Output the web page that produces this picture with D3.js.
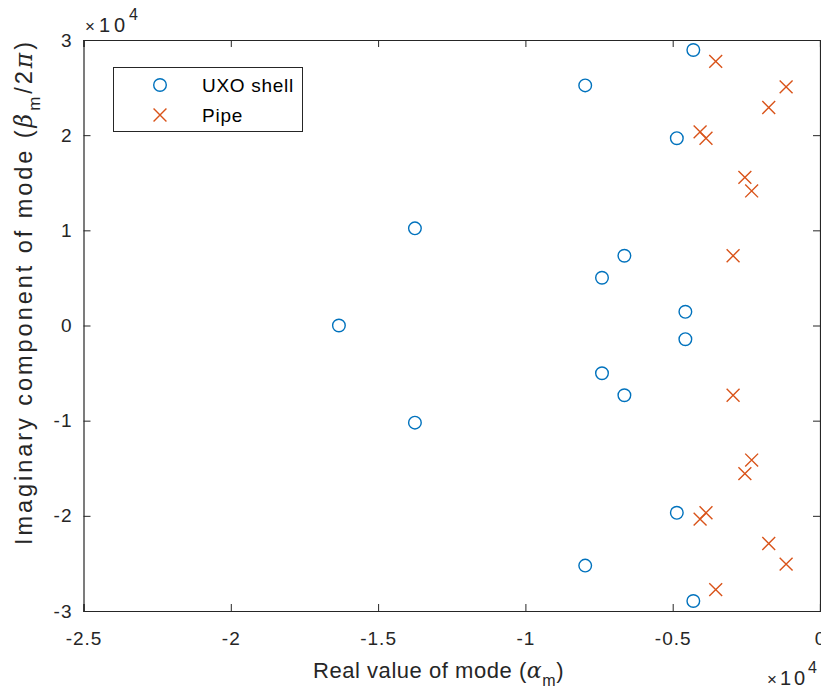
<!DOCTYPE html>
<html>
<head>
<meta charset="utf-8">
<script src="https://cdn.jsdelivr.net/npm/d3@7"></script>
<style>
  body { margin: 0; background: #fff; }
  svg { font-family: "Liberation Sans", Arial, sans-serif; }
</style>
</head>
<body>
<svg id="chart" width="821" height="692"></svg>
<script>
// UXO shell poles (real, imaginary)
const uxoReal = [-4300, -7970, -4860, -13750, -6640, -7400, -4570, -16330,
                 -4570, -7400, -6640, -13750, -4860, -7970, -4300];
const uxoImag = [28950, 25230, 19680, 10210, 7330, 5015, 1437, 0,
                 -1437, -5015, -7330, -10210, -19680, -25230, -28950];

// Pipe poles
const pipeReal = [-3540, -1150, -1740, -4070, -3870, -2550, -2320, -2950,
                  -2950, -2320, -2550, -3870, -4070, -1740, -1150, -3540];
const pipeImag = [27750, 25070, 22910, 20350, 19680, 15560, 14140, 7330,
                  -7330, -14140, -15560, -19680, -20350, -22910, -25070, -27750];

const xTicks = [-25000, -20000, -15000, -10000, -5000, 0];
const yTicks = [-30000, -20000, -10000, 0, 10000, 20000, 30000];

const blue = "#0072BD", orange = "#D95319", axisColor = "#262626";

const svg = d3.select("#chart");
const mLeft = 83.5, mRight = 820, mTop = 40, mBottom = 611;

const x = d3.scaleLinear().domain([-25000, 0]).range([mLeft, mRight]);
const y = d3.scaleLinear().domain([-30000, 30000]).range([mBottom, mTop]);

const fmt = v => String(v / 10000);

// spread a text's letters so it covers the same length as in the picture
function fit(t, target) {
    const node = t.node();
    const len = node.getComputedTextLength();
    const n = node.textContent.length;
    t.style("letter-spacing", ((target - len) / n) + "px");
}

// axes (inward ticks, box on)
svg.append("g").attr("transform", `translate(0,${mBottom})`)
    .call(d3.axisBottom(x).tickValues(xTicks).tickSize(-7).tickPadding(21).tickFormat(fmt));
svg.append("g").attr("transform", `translate(0,${mTop})`)
    .call(d3.axisTop(x).tickValues(xTicks).tickSize(-7).tickFormat(""));
svg.append("g").attr("transform", `translate(${mLeft},0)`)
    .call(d3.axisLeft(y).tickValues(yTicks).tickSize(-7).tickPadding(11).tickFormat(fmt));
svg.append("g").attr("transform", `translate(${mRight},0)`)
    .call(d3.axisRight(y).tickValues(yTicks).tickSize(-7).tickFormat(""));

svg.selectAll(".domain").attr("stroke", axisColor).attr("stroke-width", 1.2);
svg.selectAll(".tick line").attr("stroke", axisColor).attr("stroke-width", 1);
svg.selectAll(".tick text").attr("fill", axisColor).style("font-size", "19px")
    .style("letter-spacing", "1px")
    .style("font-family", "'Liberation Sans', Arial, sans-serif");

// exponent labels
function expLabel(xp, yp, width) {
    const t = svg.append("text").attr("x", xp).attr("y", yp)
        .attr("fill", axisColor).style("font-size", "20px");
    t.append("tspan").style("font-size", "17px").style("font-weight", "300").text("\u00d7");
    t.append("tspan").text("10");
    t.append("tspan").attr("dy", -12).style("font-size", "16px").text("4");
    fit(t, width);
}
expLabel(85, 31.7, 57);
expLabel(767, 685, 53);

// axis labels
const mathFont = "'DejaVu Serif', serif";
const xl = svg.append("text").attr("x", 313).attr("y", 678)
    .attr("fill", axisColor).style("font-size", "22px");
xl.append("tspan").text("Real value of mode (");
xl.append("tspan").style("font-family", mathFont).style("font-style", "italic").text("\u03b1");
xl.append("tspan").attr("dy", 8).style("font-size", "16px").text("m");
xl.append("tspan").attr("dy", -8).text(")");
fit(xl, 251);

const yl = svg.append("text").attr("transform", "translate(32,545) rotate(-90)")
    .attr("fill", axisColor).style("font-size", "23.5px");
yl.append("tspan").text("Imaginary component of mode (");
yl.append("tspan").style("font-family", mathFont).style("font-style", "italic").text("\u03b2");
yl.append("tspan").attr("dy", 8).style("font-size", "17px").text("m");
yl.append("tspan").attr("dy", -8).text("/2");
yl.append("tspan").style("font-family", mathFont).style("font-style", "italic").text("\u03c0");
yl.append("tspan").text(")");
fit(yl, 506);

// data
const uxo = uxoReal.map((r, i) => ({ r, im: uxoImag[i] }));
const pipe = pipeReal.map((r, i) => ({ r, im: pipeImag[i] }));

svg.append("g").selectAll("circle").data(uxo).join("circle")
    .attr("cx", d => x(d.r)).attr("cy", d => y(d.im)).attr("r", 6.3)
    .attr("fill", "none").attr("stroke", blue).attr("stroke-width", 1.4);

const cross = d3.symbol().type(d3.symbolX).size(110);
svg.append("g").selectAll("path").data(pipe).join("path")
    .attr("transform", d => `translate(${x(d.r)},${y(d.im)})`)
    .attr("d", cross).attr("fill", "none").attr("stroke", orange).attr("stroke-width", 1.4);

// legend
const lg = svg.append("g");
lg.append("rect").attr("x", 113.5).attr("y", 67.5).attr("width", 189).attr("height", 64)
    .attr("fill", "#fff").attr("stroke", axisColor).attr("stroke-width", 1);
lg.append("circle").attr("cx", 160).attr("cy", 85).attr("r", 6.3)
    .attr("fill", "none").attr("stroke", blue).attr("stroke-width", 1.4);
lg.append("path").attr("transform", "translate(160,115)").attr("d", cross)
    .attr("fill", "none").attr("stroke", orange).attr("stroke-width", 1.4);
const l1 = lg.append("text").attr("x", 202).attr("y", 92).attr("fill", "#000")
    .style("font-size", "19px").text("UXO shell");
fit(l1, 92);
const l2 = lg.append("text").attr("x", 202).attr("y", 122).attr("fill", "#000")
    .style("font-size", "19px").style("letter-spacing", "0.8px").text("Pipe");
</script>
</body>
</html>
